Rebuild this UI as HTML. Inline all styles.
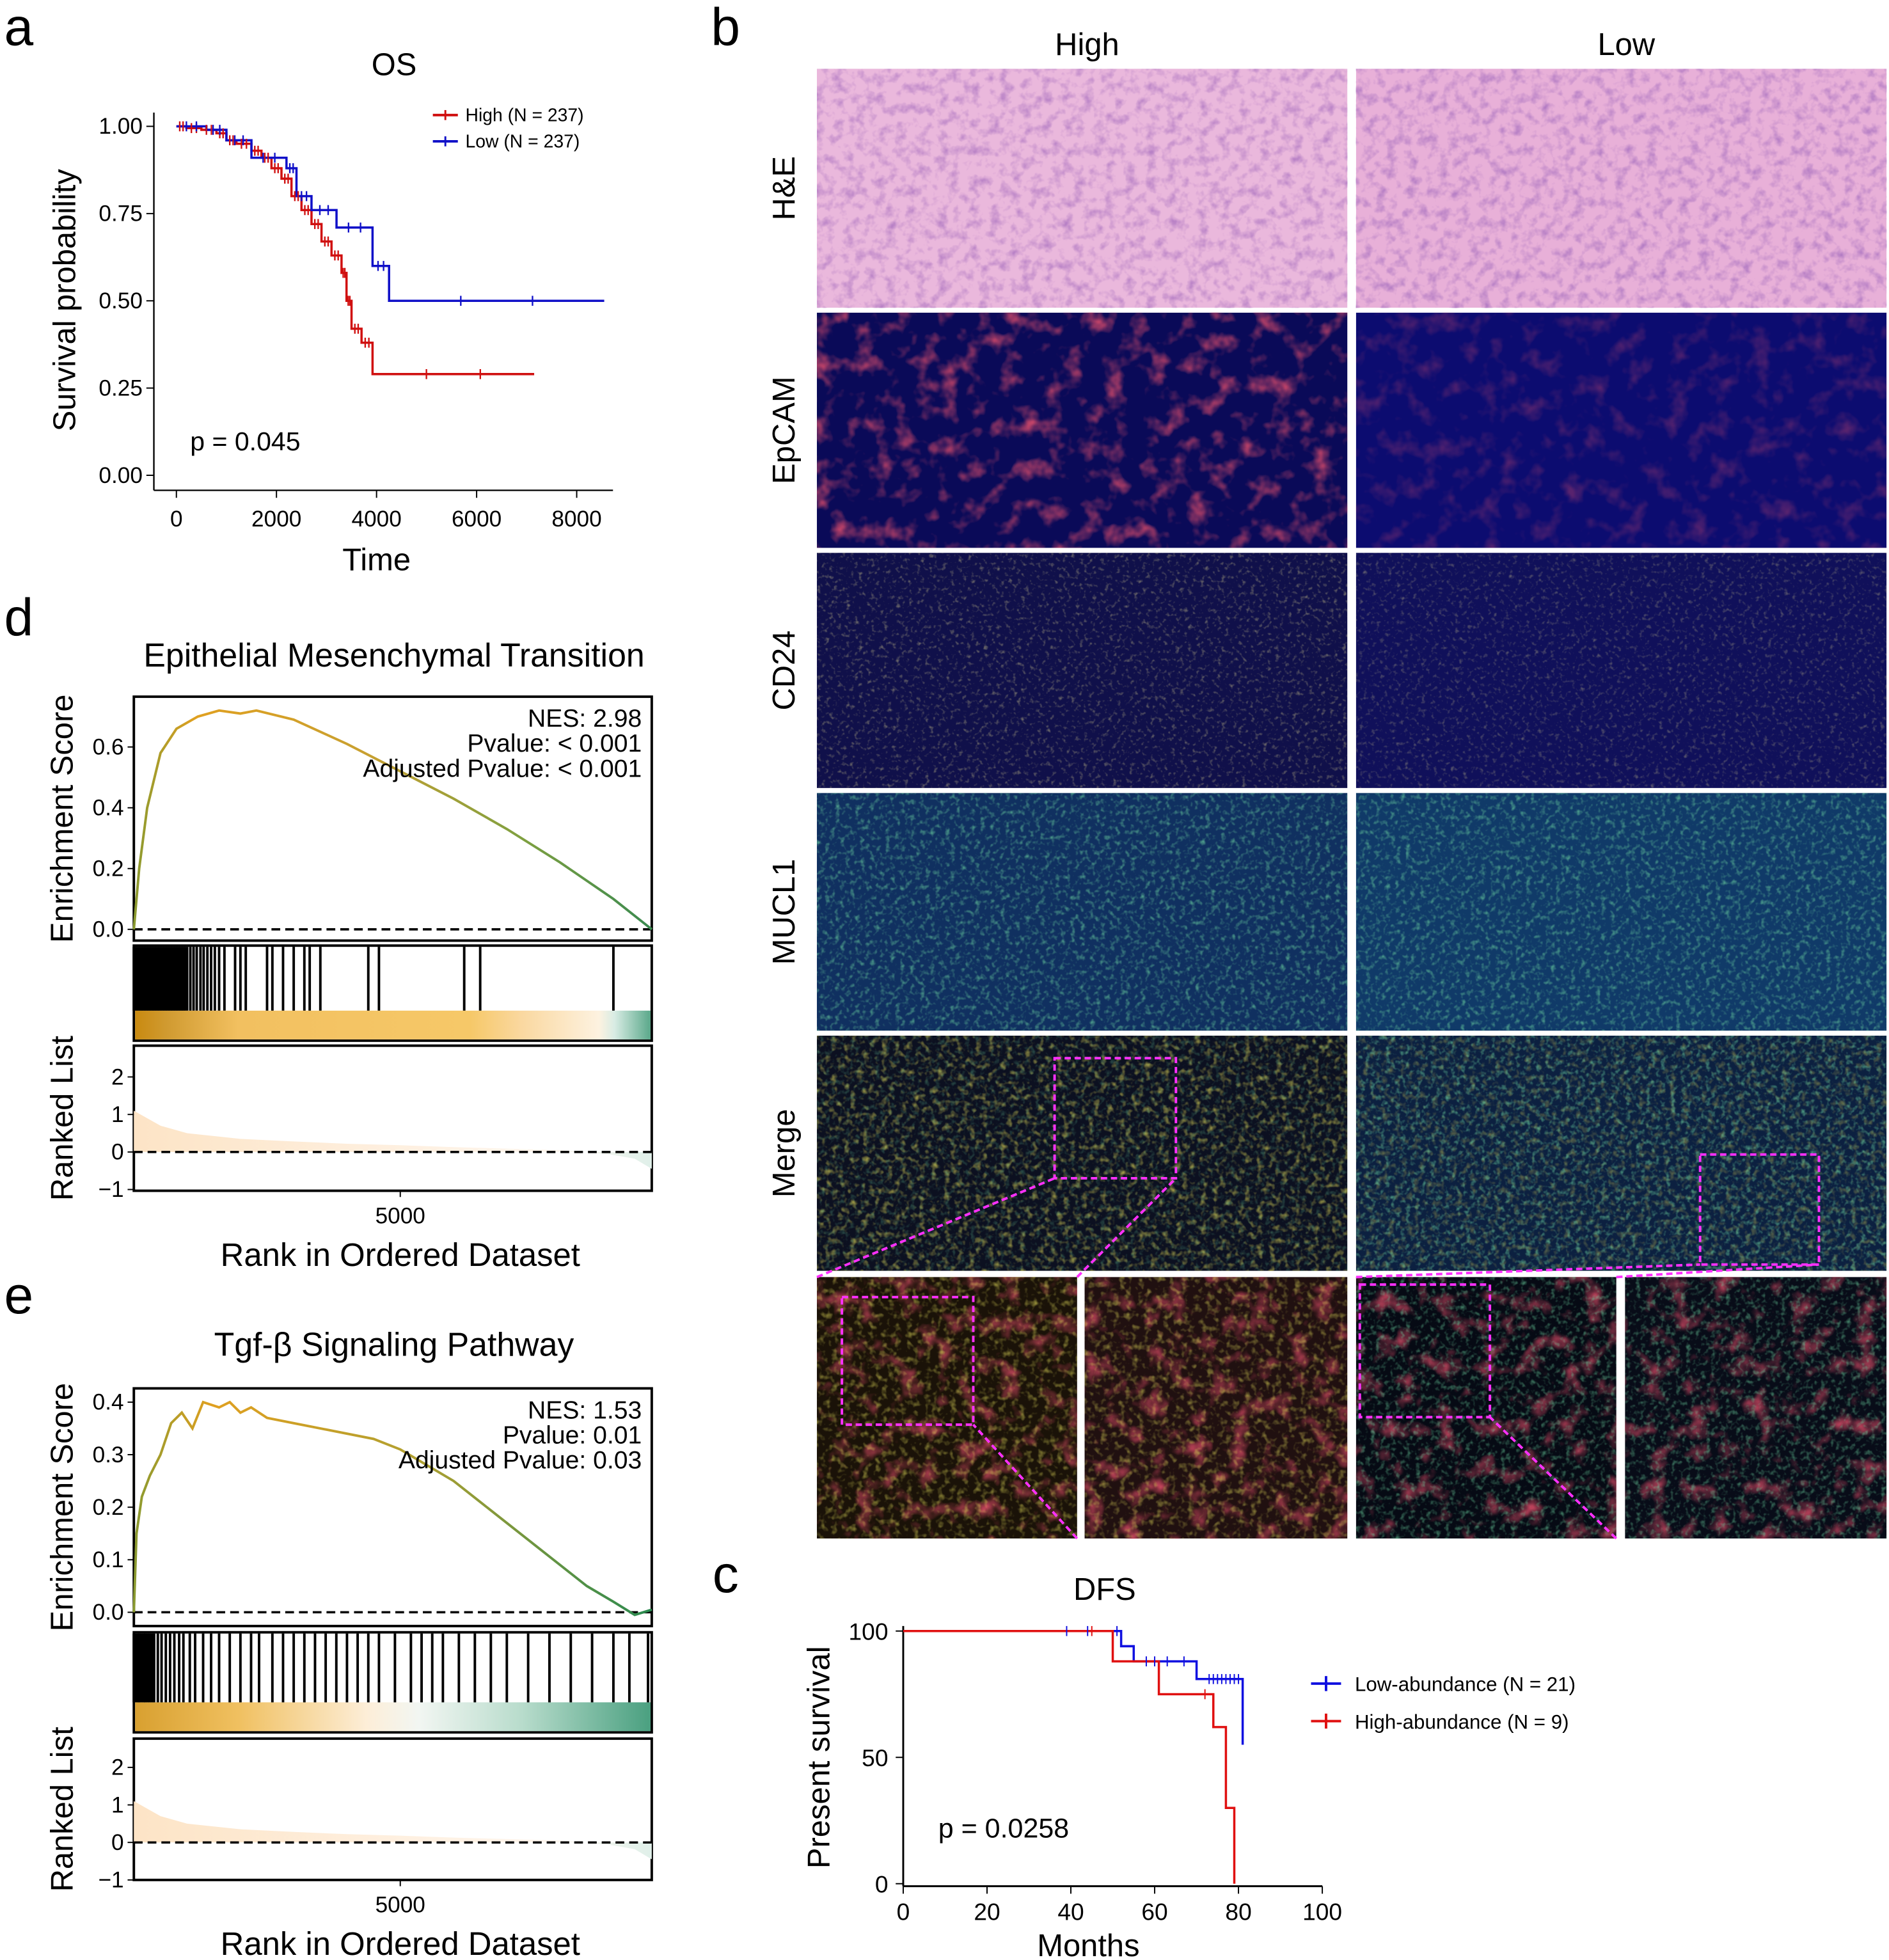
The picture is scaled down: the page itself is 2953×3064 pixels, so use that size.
<!DOCTYPE html>
<html><head><meta charset="utf-8"><style>
html,body{margin:0;padding:0;background:#fff;}
svg{display:block;font-family:"Liberation Sans",sans-serif;}
</style></head><body>
<svg id="fig" width="2953" height="3064" viewBox="0 0 1510 1567" preserveAspectRatio="none" xmlns="http://www.w3.org/2000/svg">
<defs>
<linearGradient id="esGrad1" x1="0" x2="1" y1="0" y2="0">
<stop offset="0" stop-color="#8a9a30"/><stop offset="0.12" stop-color="#e0a020"/><stop offset="0.45" stop-color="#c8a030"/><stop offset="0.75" stop-color="#7fa040"/><stop offset="1" stop-color="#3a8a50"/></linearGradient>
<linearGradient id="esGrad2" x1="0" x2="1" y1="0" y2="0">
<stop offset="0" stop-color="#8a9a30"/><stop offset="0.15" stop-color="#e0a020"/><stop offset="0.55" stop-color="#b0a030"/><stop offset="1" stop-color="#2a8a50"/></linearGradient>
<linearGradient id="bar1" x1="0" x2="1"><stop offset="0" stop-color="#c98a10"/><stop offset="0.06" stop-color="#d09a30"/><stop offset="0.2" stop-color="#f2c060"/><stop offset="0.65" stop-color="#f6c868"/><stop offset="0.75" stop-color="#fad8a0"/><stop offset="0.9" stop-color="#fdf2e0"/><stop offset="0.93" stop-color="#d8ece4"/><stop offset="1" stop-color="#5aa88a"/></linearGradient>
<linearGradient id="bar2" x1="0" x2="1"><stop offset="0" stop-color="#d8a030"/><stop offset="0.2" stop-color="#f0c060"/><stop offset="0.45" stop-color="#fdeed8"/><stop offset="0.55" stop-color="#f2f6f2"/><stop offset="0.75" stop-color="#b8dccc"/><stop offset="1" stop-color="#4aa080"/></linearGradient>
<linearGradient id="rl1" x1="0" x2="1"><stop offset="0" stop-color="#fde4c6"/><stop offset="0.8" stop-color="#fef6ee"/><stop offset="1" stop-color="#e0f0ea"/></linearGradient>
<filter id="fHE" x="0" y="0" width="1" height="1"><feTurbulence type="fractalNoise" baseFrequency="0.12" numOctaves="3" seed="2"/><feColorMatrix values="0 0 0 0 0.45  0 0 0 0 0.2  0 0 0 0 0.55  2.2 0 0 0 -1.0"/></filter>
<filter id="fRed" x="0" y="0" width="1" height="1"><feTurbulence type="fractalNoise" baseFrequency="0.06" numOctaves="3" seed="5"/><feColorMatrix values="0 0 0 0 0.8  0 0 0 0 0.08  0 0 0 0 0.15  2.4 0 0 0 -1.2"/></filter>
<filter id="fYel" x="0" y="0" width="1" height="1"><feTurbulence type="fractalNoise" baseFrequency="0.3" numOctaves="2" seed="7"/><feColorMatrix values="0 0 0 0 0.6  0 0 0 0 0.55  0 0 0 0 0.25  2.0 0 0 0 -1.1"/></filter>
<filter id="fGrn" x="0" y="0" width="1" height="1"><feTurbulence type="fractalNoise" baseFrequency="0.25" numOctaves="2" seed="9"/><feColorMatrix values="0 0 0 0 0.15  0 0 0 0 0.65  0 0 0 0 0.35  2.0 0 0 0 -1.0"/></filter>
<filter id="fMix" x="0" y="0" width="1" height="1"><feTurbulence type="fractalNoise" baseFrequency="0.2" numOctaves="2" seed="3"/><feColorMatrix values="0 0 0 0 0.75  0 0 0 0 0.7  0 0 0 0 0.1  2.0 0 0 0 -1.0"/></filter>
</defs>
</svg>
<script>
// ---- Panel a: OS KM data ----
var osHighT=[0,200,500,800,1000,1200,1500,1700,1900,2100,2300,2500,2700,2900,3100,3300,3400,3500,3700,3920,7150];
var osHighS=[1,0.995,0.99,0.98,0.96,0.95,0.93,0.91,0.88,0.85,0.80,0.76,0.72,0.67,0.63,0.58,0.50,0.42,0.38,0.29,0.29];
var osLowT=[0,600,1000,1500,2200,2400,2700,3200,3920,4250,8550];
var osLowS=[1,0.99,0.96,0.91,0.88,0.80,0.76,0.71,0.60,0.50,0.50];
var osXTicks=[0,2000,4000,6000,8000];
var osYTicks=[0,0.25,0.5,0.75,1.0];
// ---- Panel d: EMT GSEA ----
var emtRank=[0,100,250,500,800,1200,1600,2000,2300,3000,4000,5000,6000,7000,8000,9000,9720];
var emtES=[0,0.2,0.4,0.58,0.66,0.70,0.72,0.71,0.72,0.69,0.61,0.52,0.43,0.33,0.22,0.10,0];
var emtHits=[0,30,60,90,120,150,180,210,240,270,300,330,360,390,420,450,480,510,540,570,600,630,660,690,720,750,780,810,840,870,900,930,960,1000,1060,1120,1180,1250,1310,1380,1450,1520,1600,1700,1900,2000,2100,2500,2600,2800,3000,3200,3300,3500,4400,4600,6200,6500,9000];
var emtIdx=[0,500,1000,2000,3000,4000,5000,6000,7000,8000,8500,9000,9400,9720];
var emtRL=[1.1,0.7,0.5,0.35,0.28,0.22,0.18,0.13,0.09,0.05,0.0,-0.08,-0.18,-0.45];
// ---- Panel e: TGF GSEA ----
var tgfRank=[0,50,150,300,500,700,900,1100,1300,1600,1800,2000,2200,2500,3000,3500,4000,4500,5000,5500,6000,6500,7000,7500,8000,8500,9000,9400,9720];
var tgfES=[0,0.15,0.22,0.26,0.30,0.36,0.38,0.35,0.40,0.39,0.40,0.38,0.39,0.37,0.36,0.35,0.34,0.33,0.31,0.28,0.25,0.21,0.17,0.13,0.09,0.05,0.02,-0.005,0.005];
var tgfHits=[0,40,80,110,150,190,220,260,300,340,380,450,520,600,680,760,850,930,1050,1150,1300,1450,1600,1800,2000,2200,2350,2600,2800,3000,3200,3400,3600,3800,4000,4200,4400,4600,4900,5200,5400,5600,5800,6100,6400,6700,7000,7400,7800,8200,8600,9000,9300,9650];
var tgfIdx=[0,500,1000,2000,3000,4000,5000,6000,7000,8000,8500,9000,9400,9720];
var tgfRL=[1.1,0.7,0.5,0.35,0.28,0.22,0.18,0.13,0.09,0.05,0.0,-0.08,-0.18,-0.45];
// ---- Panel c: DFS KM ----
var dfsLowT=[0,52,55,70,81,81];
var dfsLowS=[100,94,88,81,55,55];
var dfsHighT=[0,50,61,74,77,79,79];
var dfsHighS=[100,88,75,62,30,0,0];
var dfsXTicks=[0,20,40,60,80,100];
var dfsYTicks=[0,50,100];

var NS="http://www.w3.org/2000/svg";
var svg=document.getElementById('fig');
function mk(tag,attrs,parent,txt){var e=document.createElementNS(NS,tag);for(var k in attrs)e.setAttribute(k,attrs[k]);if(txt!==undefined)e.textContent=txt;(parent||svg).appendChild(e);return e;}
function txt(x,y,s,size,anchor,rot,name){var t=mk('text',{x:x,y:y,'font-size':size,'text-anchor':anchor||'middle',fill:'#000'},svg,s);if(rot)t.setAttribute('transform','rotate(-90 '+x+' '+y+')');


return t;}
function stepPath(T,S,fx,fy){var d='M'+fx(T[0])+','+fy(S[0]);for(var i=1;i<T.length;i++){d+=' H'+fx(T[i])+' V'+fy(S[i]);}return d;}
function linePath(X,Y,fx,fy){return X.map(function(v,i){return (i?'L':'M')+fx(v)+','+fy(Y[i]);}).join(' ');}

[['a',15,36],['b',580,36],['d',15,508],['e',15,1050],['c',580,1273]].forEach(function(p){var t=txt(p[1],p[2],p[0],42,'middle');});

// ===== Panel a =====
(function(){
var fx=function(v){return 141+v*0.04;}, fy=function(v){return 380-v*279;};
mk('line',{x1:123,y1:90,x2:123,y2:392,stroke:'#000','stroke-width':1.2});
mk('line',{x1:123,y1:392,x2:490,y2:392,stroke:'#000','stroke-width':1.2});
osXTicks.forEach(function(v){mk('line',{x1:fx(v),y1:392,x2:fx(v),y2:398,stroke:'#000'});txt(fx(v),421,String(v),18,'middle',0,'x-tick-'+v);});
osYTicks.forEach(function(v){mk('line',{x1:117,y1:fy(v),x2:123,y2:fy(v),stroke:'#000'});txt(114,fy(v)+6,v.toFixed(2),18,'end',0,'y-tick-'+v);});
txt(301,456,'Time',25,'middle',0,'x-axis-title');
txt(60,240,'Survival probability',25,'middle',1,'y-axis-title');
txt(315,60,'OS',25,'middle',0,'chart-title-os');
txt(152,360,'p = 0.045',21,'start',0,'p-value-os');
var h=mk('path',{d:stepPath(osHighT,osHighS,fx,fy),fill:'none',stroke:'#d01010','stroke-width':1.8});


var l=mk('path',{d:stepPath(osLowT,osLowS,fx,fy),fill:'none',stroke:'#1010c8','stroke-width':1.8});


[[osHighT,osHighS,'#d01010'],[osLowT,osLowS,'#1010c8']].forEach(function(s){for(var i=1;i<s[0].length;i++){var t0=s[0][i-1],t1=s[0][i];for(var k=1;k<3;k++){var t=t0+(t1-t0)*k/3;mk('line',{x1:fx(t),y1:fy(s[1][i-1])-4,x2:fx(t),y2:fy(s[1][i-1])+4,stroke:s[2],'stroke-width':1.2});}}});
var lg=[['High (N = 237)','#d01010',92],['Low (N = 237)','#1010c8',113]];
lg.forEach(function(e){mk('line',{x1:346,y1:e[2],x2:366,y2:e[2],stroke:e[1],'stroke-width':2});mk('line',{x1:356,y1:e[2]-4,x2:356,y2:e[2]+4,stroke:e[1],'stroke-width':1.5});txt(372,e[2]+5,e[0],14.5,'start',0,'legend-entry');});
})();

// ===== GSEA panels =====
function gsea(cfg){
var x0=107,x1=521,fx=function(r){return x0+r*(x1-x0)/9720;};
var t=cfg.top;
var fy=function(v){return t.y0v-(v)*t.k;};
mk('rect',{x:x0,y:t.y,width:x1-x0,height:t.h,fill:'none',stroke:'#000','stroke-width':2});
mk('line',{x1:x0,y1:fy(0),x2:x1,y2:fy(0),stroke:'#000','stroke-width':1.8,'stroke-dasharray':'7,4'});
cfg.yt.forEach(function(v){mk('line',{x1:x0-5,y1:fy(v),x2:x0,y2:fy(v),stroke:'#000'});txt(x0-8,fy(v)+6,v.toFixed(1),18,'end',0,'es-tick');});
var c=mk('path',{d:linePath(cfg.rank,cfg.es,fx,fy),fill:'none',stroke:cfg.grad,'stroke-width':2});


cfg.stats.forEach(function(s,i){txt(513,t.y+24+i*20,s,20,'end',0,'gsea-stat');});
txt(315,cfg.titleY,cfg.title,26.5,'middle',0,'gsea-title');
txt(58,(t.y+t.y+t.h)/2,'Enrichment Score',25,'middle',1,'es-axis-title');
var m=cfg.mid;
mk('rect',{x:x0,y:m.y,width:x1-x0,height:m.h,fill:'#fff',stroke:'#000','stroke-width':2});
mk('rect',{x:x0+1,y:m.y+m.h-24,width:x1-x0-2,height:23,fill:cfg.bar});
cfg.hits.forEach(function(r){var ln=mk('line',{x1:fx(r),y1:m.y+1,x2:fx(r),y2:m.y+m.h-24,stroke:'#000','stroke-width':2});

});
var b=cfg.bot;
var fr=function(v){return b.zero-v*30;};
mk('rect',{x:x0,y:b.y,width:x1-x0,height:b.h,fill:'none',stroke:'#000','stroke-width':2});
var d=linePath(cfg.idx,cfg.rl,fx,fr)+' L'+fx(9720)+','+fr(0)+' L'+fx(0)+','+fr(0)+' Z';
var a=mk('path',{d:d,fill:'url(#rl1)',stroke:'none'});


mk('line',{x1:x0,y1:fr(0),x2:x1,y2:fr(0),stroke:'#000','stroke-width':1.8,'stroke-dasharray':'7,4'});
[2,1,0,-1].forEach(function(v){mk('line',{x1:x0-5,y1:fr(v),x2:x0,y2:fr(v),stroke:'#000'});txt(x0-8,fr(v)+6,String(v).replace('-','−'),18,'end',0,'rank-tick');});
mk('line',{x1:fx(5000),y1:b.y+b.h,x2:fx(5000),y2:b.y+b.h+5,stroke:'#000'});
txt(fx(5000),b.y+b.h+26,'5000',18,'middle',0,'x-tick-5000');
txt(320,b.y+b.h+60,'Rank in Ordered Dataset',26,'middle',0,'x-axis-title');
txt(58,(b.y+b.y+b.h)/2,'Ranked List',25,'middle',1,'ranked-axis-title');
}
gsea({titleY:533,title:'Epithelial Mesenchymal Transition',top:{y:557,h:195,y0v:743,k:243},yt:[0,0.2,0.4,0.6],rank:emtRank,es:emtES,grad:'url(#esGrad1)',
stats:['NES: 2.98','Pvalue: < 0.001','Adjusted Pvalue: < 0.001'],mid:{y:756,h:76},bar:'url(#bar1)',hits:emtHits,bot:{y:836,h:116,zero:921},idx:emtIdx,rl:emtRL});
gsea({titleY:1084,title:'Tgf-β Signaling Pathway',top:{y:1110,h:190,y0v:1289,k:420},yt:[0,0.1,0.2,0.3,0.4],rank:tgfRank,es:tgfES,grad:'url(#esGrad2)',
stats:['NES: 1.53','Pvalue: 0.01','Adjusted Pvalue: 0.03'],mid:{y:1305,h:80},bar:'url(#bar2)',hits:tgfHits,bot:{y:1390,h:113,zero:1473},idx:tgfIdx,rl:tgfRL});

// ===== Panel b: images =====
(function(){
txt(869,44,'High',25,'middle',0,'column-title-high');
txt(1300,44,'Low',25,'middle',0,'column-title-low');
// [label, y0, y1, base high, base low, filter, opacity high, opacity low]
var rows=[['H&E',55,246,'#eab8dc','#e8b0d8','fHE',0.9,1],['EpCAM',250,438,'#0a0a58','#0c0c70','fRed',0.85,0.35],['CD24',442,630,'#10104a','#10105a','fYel',0.7,0.55],['MUCL1',634,824,'#103060','#103a68','fGrn',0.8,0.8],['Merge',828,1016,'#0c1020','#0c2040','fMix',0.8,0.5]];
var cols=[[653,1077],[1084,1508]];
rows.forEach(function(r){
txt(635,(r[1]+r[2])/2,r[0],25,'middle',1,'row-label');
cols.forEach(function(c,ci){
var g=mk('rect',{x:c[0],y:r[1],width:c[1]-c[0],height:r[2]-r[1],fill:ci?r[4]:r[3]});


mk('rect',{x:c[0],y:r[1],width:c[1]-c[0],height:r[2]-r[1],filter:'url(#'+r[5]+')',opacity:ci?r[7]:r[6]});
if(r[0]=='Merge'){mk('rect',{x:c[0],y:r[1],width:c[1]-c[0],height:r[2]-r[1],filter:'url(#fGrn)',opacity:ci?0.8:0.4});}
});});
var zs=[[653,861,'#1a1208'],[867,1077,'#201010'],[1084,1292,'#060a14'],[1299,1508,'#080c18']];
zs.forEach(function(z,i){var g=mk('rect',{x:z[0],y:1021,width:z[1]-z[0],height:209,fill:z[2]});


mk('rect',{x:z[0],y:1021,width:z[1]-z[0],height:209,filter:'url(#fRed)',opacity:0.8});
mk('rect',{x:z[0],y:1021,width:z[1]-z[0],height:209,filter:(i<2?'url(#fMix)':'url(#fGrn)'),opacity:0.7});});
var dash={fill:'none',stroke:'#ff30ff','stroke-width':2,'stroke-dasharray':'5,3'};
mk('rect',Object.assign({x:843,y:846,width:97,height:96},dash));
mk('rect',Object.assign({x:1359,y:923,width:95,height:88},dash));
mk('rect',Object.assign({x:673,y:1037,width:105,height:102},dash));
mk('rect',Object.assign({x:1087,y:1027,width:104,height:106},dash));
[[653,1021,843,942],[861,1021,940,942],[861,1230,778,1139],[1084,1021,1359,1011],[1292,1021,1454,1011],[1292,1230,1191,1133]].forEach(function(l){mk('line',Object.assign({x1:l[0],y1:l[1],x2:l[2],y2:l[3]},dash));});
})();

// ===== Panel c: DFS =====
(function(){
var fx=function(v){return 722+v*3.35;}, fy=function(v){return 1506-v*2.02;};
mk('line',{x1:722,y1:1300,x2:722,y2:1508,stroke:'#000','stroke-width':1.5});
mk('line',{x1:722,y1:1508,x2:1057,y2:1508,stroke:'#000','stroke-width':1.5});
dfsXTicks.forEach(function(v){mk('line',{x1:fx(v),y1:1508,x2:fx(v),y2:1514,stroke:'#000'});txt(fx(v),1535,String(v),19,'middle',0,'x-tick-'+v);});
dfsYTicks.forEach(function(v){mk('line',{x1:716,y1:fy(v),x2:722,y2:fy(v),stroke:'#000'});txt(710,fy(v)+7,String(v),19,'end',0,'y-tick-'+v);});
txt(883,1279,'DFS',25,'middle',0,'chart-title-dfs');
txt(870,1564,'Months',25,'middle',0,'x-axis-title-months');
txt(663,1405,'Present survival',25,'middle',1,'y-axis-title-survival');
txt(750,1469,'p = 0.0258',22,'start',0,'p-value-dfs');
var l=mk('path',{d:stepPath(dfsLowT,dfsLowS,fx,fy),fill:'none',stroke:'#1010e0','stroke-width':1.8});


var h=mk('path',{d:stepPath(dfsHighT,dfsHighS,fx,fy),fill:'none',stroke:'#e01010','stroke-width':1.8});


[39,44,51,58,60,63,67,73,74,75,76,77,78,79,80].forEach(function(t){var s=t<52?100:t<55?94:t<70?88:81;mk('line',{x1:fx(t),y1:fy(s)-4,x2:fx(t),y2:fy(s)+4,stroke:'#1010e0'});});
[45,72].forEach(function(t){var s=t<50?100:75;mk('line',{x1:fx(t),y1:fy(s)-4,x2:fx(t),y2:fy(s)+4,stroke:'#e01010'});});
[['Low-abundance (N = 21)','#1010e0',1346],['High-abundance (N = 9)','#e01010',1376]].forEach(function(e){mk('line',{x1:1048,y1:e[2],x2:1072,y2:e[2],stroke:e[1],'stroke-width':2});mk('line',{x1:1060,y1:e[2]-6,x2:1060,y2:e[2]+6,stroke:e[1],'stroke-width':2});txt(1083,e[2]+6,e[0],16,'start',0,'legend-entry');});
})();
</script>
</body></html>
